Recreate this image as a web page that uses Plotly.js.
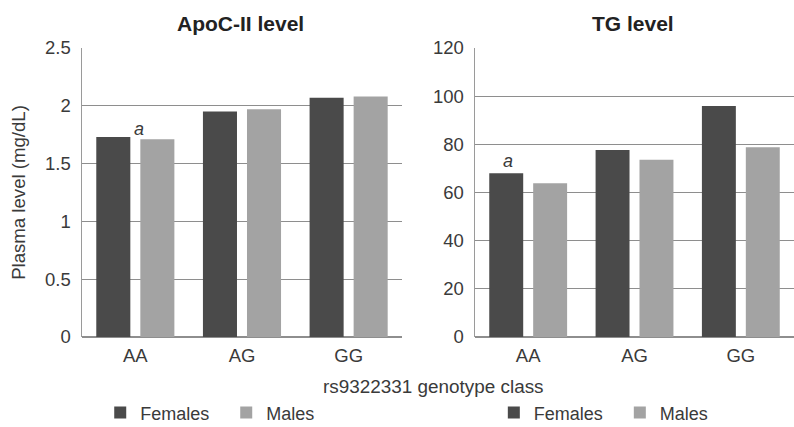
<!DOCTYPE html>
<html>
<head>
<meta charset="utf-8">
<script src="https://cdn.plot.ly/plotly-3.0.1.min.js"></script>
<style>html,body{margin:0;padding:0;background:#fff;}#chart{width:794px;height:427px;}</style>
</head>
<body>
<div id="chart"></div>
<script>
const genotypes = ['AA', 'AG', 'GG'];
const apoFemales = [1.73, 1.95, 2.07];
const apoMales = [1.71, 1.97, 2.08];
const tgFemales = [68, 77.6, 95.9];
const tgMales = [63.8, 73.6, 78.8];
const seriesNames = ['Females', 'Males'];
const panelTitles = ['ApoC-II level', 'TG level'];
const yTitle = 'Plasma level (mg/dL)';
const xTitle = 'rs9322331 genotype class';
const markLabel = 'a';

const cFem = '#4a4a4a', cMal = '#a3a3a3';
const txt = '#3a3a3a';
const ff = 'Liberation Sans, Arial, sans-serif';

const traces = [
  {type:'bar', x:genotypes, y:apoFemales, name:seriesNames[0], marker:{color:cFem}, xaxis:'x', yaxis:'y', legend:'legend'},
  {type:'bar', x:genotypes, y:apoMales, name:seriesNames[1], marker:{color:cMal}, xaxis:'x', yaxis:'y', legend:'legend'},
  {type:'bar', x:genotypes, y:tgFemales, name:seriesNames[0], marker:{color:cFem}, xaxis:'x2', yaxis:'y2', legend:'legend2'},
  {type:'bar', x:genotypes, y:tgMales, name:seriesNames[1], marker:{color:cMal}, xaxis:'x2', yaxis:'y2', legend:'legend2'}
];

const yCommon = {
  showgrid:true, gridcolor:'#8e8e8e', gridwidth:1.2,
  zeroline:true, zerolinecolor:'#8e8e8e', zerolinewidth:1.5,
  showline:true, linecolor:'#9a9a9a', linewidth:1.5,
  ticks:'', ticklabelstandoff:6,
  tickfont:{family:ff, size:18.5, color:txt}
};
const xCommon = {
  showgrid:false, showline:false, ticks:'', ticklabelstandoff:5,
  tickfont:{family:ff, size:18.5, color:txt}
};

const legCommon = {
  orientation:'h', yref:'container', y:0.033, yanchor:'middle', xanchor:'left',
  font:{family:ff, size:18, color:txt}, entrywidthmode:'pixels', entrywidth:81,
  bgcolor:'rgba(0,0,0,0)', traceorder:'normal'
};

const layout = {
  width:794, height:427,
  margin:{l:82, r:0, t:48, b:90},
  paper_bgcolor:'#fff', plot_bgcolor:'#fff',
  barmode:'group', bargap:0.174, bargroupgap:0.227,
  font:{family:ff, color:txt},
  xaxis:Object.assign({}, xCommon, {domain:[0, 0.4494], anchor:'y'}),
  yaxis:Object.assign({}, yCommon, {range:[0,2.5], dtick:0.5, anchor:'x',
    title:{text:yTitle, font:{family:ff, size:18.6, color:txt}, standoff:14}}),
  xaxis2:Object.assign({}, xCommon, {domain:[0.552, 1], anchor:'y2'}),
  yaxis2:Object.assign({}, yCommon, {range:[0,120], dtick:20, anchor:'x2'}),
  legend:Object.assign({}, legCommon, {x:0.0256}),
  legend2:Object.assign({}, legCommon, {x:0.5784}),
  annotations:[
    {text:'<b>'+panelTitles[0]+'</b>', xref:'paper', yref:'paper', x:0.2226, y:1, xanchor:'center', yanchor:'bottom', yshift:11, showarrow:false,
      font:{family:ff, size:21, color:'#222'}},
    {text:'<b>'+panelTitles[1]+'</b>', xref:'paper', yref:'paper', x:0.7739, y:1, xanchor:'center', yanchor:'bottom', yshift:11, showarrow:false,
      font:{family:ff, size:21, color:'#222'}},
    {text:xTitle, xref:'paper', yref:'paper', x:0.4937, y:-0.17, xanchor:'center', yanchor:'middle', showarrow:false,
      font:{family:ff, size:18.9, color:txt}},
    {text:'<i>'+markLabel+'</i>', xref:'x', yref:'y', x:genotypes[0], y:apoFemales[0], xshift:4, xanchor:'center', yanchor:'bottom', yshift:-4, showarrow:false,
      font:{family:ff, size:18, color:txt}},
    {text:'<i>'+markLabel+'</i>', xref:'x2', yref:'y2', x:genotypes[0], y:tgFemales[0], xshift:-20, xanchor:'center', yanchor:'bottom', yshift:0, showarrow:false,
      font:{family:ff, size:18, color:txt}}
  ]
};

Plotly.newPlot('chart', traces, layout, {displayModeBar:false, staticPlot:true});
</script>
</body>
</html>
